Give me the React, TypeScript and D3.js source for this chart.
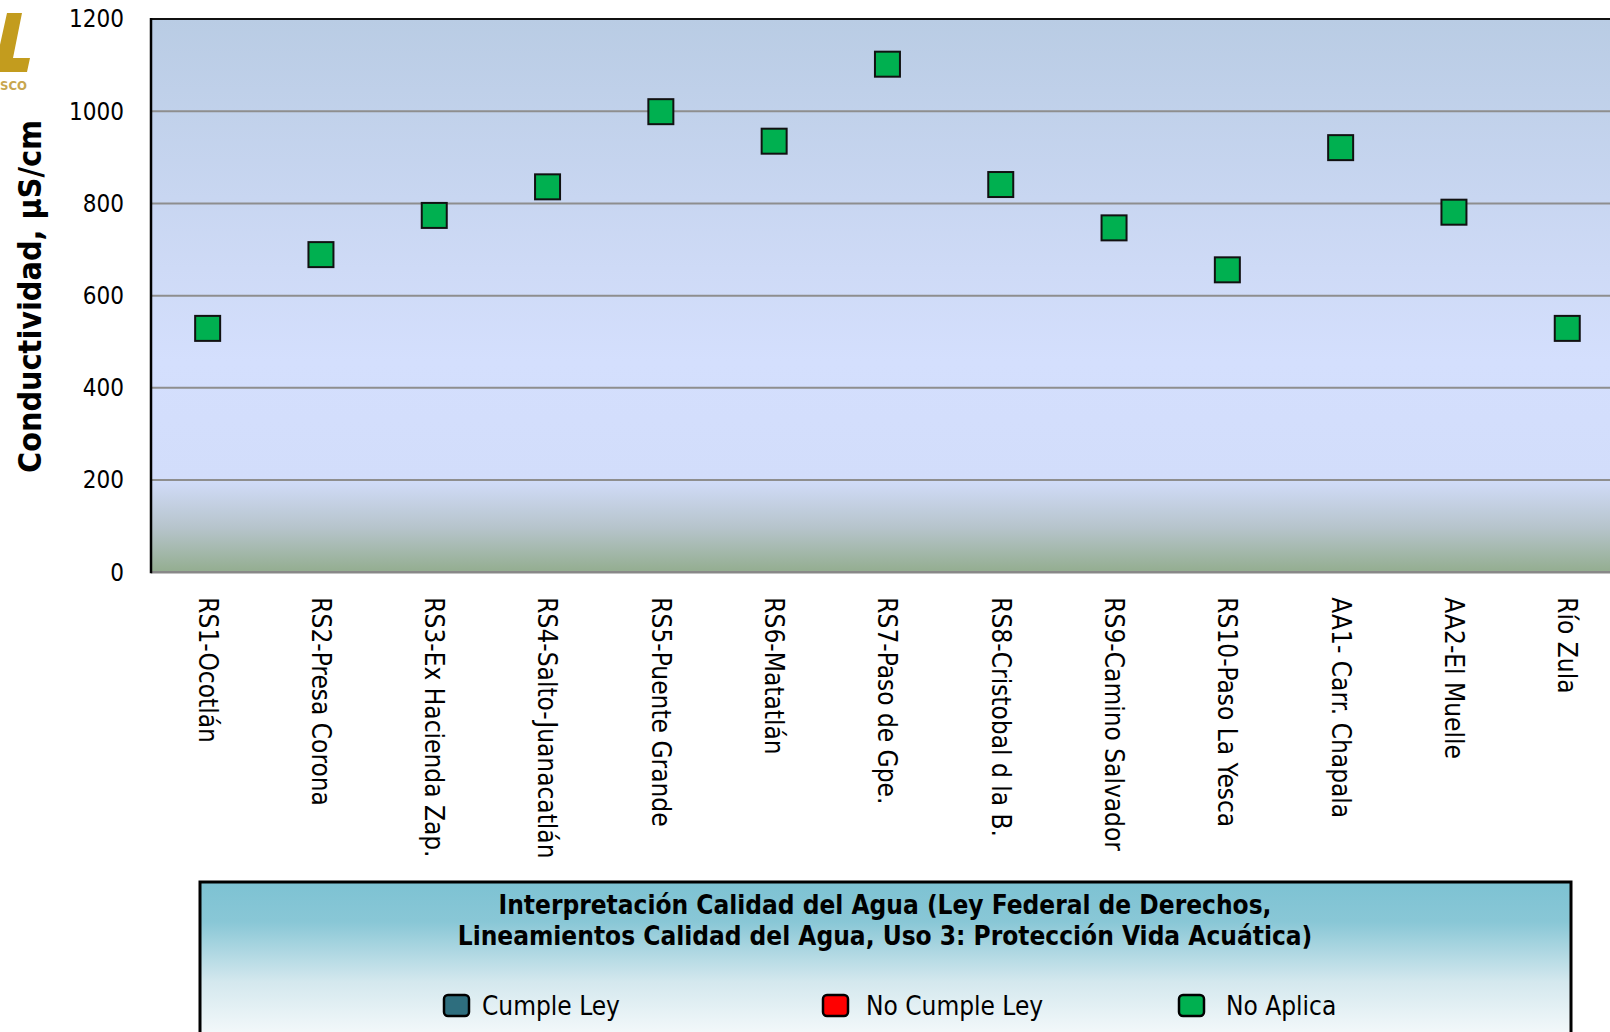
import { useEffect, useRef } from 'react'
import * as d3 from 'd3'

const categories = [
  'RS1-Ocotlán',
  'RS2-Presa Corona',
  'RS3-Ex Hacienda Zap.',
  'RS4-Salto-Juanacatlán',
  'RS5-Puente Grande',
  'RS6-Matatlán',
  'RS7-Paso de Gpe.',
  'RS8-Cristobal d la B.',
  'RS9-Camino Salvador',
  'RS10-Paso La Yesca',
  'AA1- Carr. Chapala',
  'AA2-El Muelle',
  'Río Zula',
]
const conductividad = [529, 689, 774, 836, 999, 935, 1102, 841, 747, 656, 921, 781, 529]
const yTicks = [0, 200, 400, 600, 800, 1000, 1200]
const legendItems = [
  { label: 'Cumple Ley', color: '#2E6E7E' },
  { label: 'No Cumple Ley', color: '#FF0000' },
  { label: 'No Aplica', color: '#00B050' },
]
const legendTitle = [
  'Interpretación Calidad del Agua (Ley Federal de Derechos,',
  'Lineamientos Calidad del Agua, Uso 3: Protección Vida Acuática)',
]

const FONT = '"DejaVu Sans Condensed", "DejaVu Sans", sans-serif'

export default function App() {
  const ref = useRef<SVGSVGElement>(null)

  useEffect(() => {
    const svg = d3.select(ref.current)
    svg.selectAll('*').remove()

    const width = 1610
    const height = 1032
    const left = 151
    const top = 19
    const bottom = 572.3
    const band = 113.3

    svg.attr('width', width).attr('height', height).attr('viewBox', `0 0 ${width} ${height}`)

    const defs = svg.append('defs')
    const bg = defs.append('linearGradient').attr('id', 'plotBg').attr('x1', 0).attr('y1', 0).attr('x2', 0).attr('y2', 1)
    bg.append('stop').attr('offset', '0').attr('stop-color', '#B9CCE4')
    bg.append('stop').attr('offset', '0.45').attr('stop-color', '#CEDAF6')
    bg.append('stop').attr('offset', '0.62').attr('stop-color', '#D4DFFD')
    bg.append('stop').attr('offset', '0.83').attr('stop-color', '#D2DDFB')
    bg.append('stop').attr('offset', '0.92').attr('stop-color', '#B6C4CB')
    bg.append('stop').attr('offset', '1').attr('stop-color', '#93AD8F')

    const lg = defs.append('linearGradient').attr('id', 'legBg').attr('x1', 0).attr('y1', 0).attr('x2', 0).attr('y2', 1)
    lg.append('stop').attr('offset', '0').attr('stop-color', '#7DC2D3')
    lg.append('stop').attr('offset', '0.2').attr('stop-color', '#89C7D6')
    lg.append('stop').attr('offset', '0.5').attr('stop-color', '#D4E8EE')
    lg.append('stop').attr('offset', '0.8').attr('stop-color', '#F8FBFC')
    lg.append('stop').attr('offset', '1').attr('stop-color', '#FFFFFF')

    const x = d3.scaleBand().domain(categories).range([left, left + band * categories.length]).padding(0)
    const y = d3.scaleLinear().domain([0, 1200]).range([bottom, top])

    // logo fragment, cut off at the page edge like the source
    svg.append('path')
      .attr('d', 'M-6,72 L27,72 L30,58 L13,58 L22,13 L7,13 Z')
      .attr('fill', '#C39C1E')
    svg.append('text')
      .attr('x', 0).attr('y', 90)
      .attr('font-family', FONT).attr('font-weight', 'bold')
      .attr('font-size', 13).attr('fill', '#C8A64E')
      .text('SCO')

    // plot background
    svg.append('rect')
      .attr('x', left).attr('y', top)
      .attr('width', width - left + 20).attr('height', bottom - top)
      .attr('fill', 'url(#plotBg)')

    // gridlines
    svg.append('g')
      .selectAll('line')
      .data(yTicks.filter(t => t > 0 && t < 1200))
      .join('line')
      .attr('x1', left).attr('x2', width)
      .attr('y1', d => y(d)).attr('y2', d => y(d))
      .attr('stroke', '#8E8E8E').attr('stroke-width', 2)

    // top border
    svg.append('line')
      .attr('x1', left).attr('x2', width)
      .attr('y1', top).attr('y2', top)
      .attr('stroke', '#111').attr('stroke-width', 2)

    // bottom axis
    svg.append('line')
      .attr('x1', left).attr('x2', width)
      .attr('y1', bottom).attr('y2', bottom)
      .attr('stroke', '#888').attr('stroke-width', 2.5)

    // left axis
    svg.append('line')
      .attr('x1', left).attr('x2', left)
      .attr('y1', top - 1).attr('y2', bottom + 1)
      .attr('stroke', '#000').attr('stroke-width', 2.5)

    // y tick labels
    svg.append('g')
      .selectAll('text')
      .data(yTicks)
      .join('text')
      .attr('x', 124)
      .attr('y', d => y(d))
      .attr('dy', '0.35em')
      .attr('text-anchor', 'end')
      .attr('font-family', FONT).attr('font-size', 24).attr('fill', '#000')
      .text(d => String(d))

    // y title
    svg.append('text')
      .attr('transform', `translate(41,${(121 + 472) / 2}) rotate(-90)`)
      .attr('text-anchor', 'middle')
      .attr('font-family', FONT).attr('font-weight', 'bold')
      .attr('font-size', 32).attr('fill', '#000')
      .text('Conductividad, µS/cm')

    // x labels
    svg.append('g')
      .selectAll('text')
      .data(categories)
      .join('text')
      .attr('transform', d => `translate(${x(d)! + band / 2},${bottom + 25}) rotate(90)`)
      .attr('dy', '0.35em')
      .attr('text-anchor', 'start')
      .attr('font-family', FONT).attr('font-size', 26).attr('fill', '#000')
      .text(d => d)

    // markers
    const ms = 25
    svg.append('g')
      .selectAll('rect')
      .data(conductividad)
      .join('rect')
      .attr('x', (_, i) => x(categories[i])! + band / 2 - ms / 2)
      .attr('y', d => y(d) - ms / 2)
      .attr('width', ms).attr('height', ms)
      .attr('fill', '#00B050').attr('stroke', '#111').attr('stroke-width', 2)

    // legend box
    const lx = 200
    const ly = 882
    const lw = 1371
    svg.append('rect')
      .attr('x', lx).attr('y', ly)
      .attr('width', lw).attr('height', 200)
      .attr('fill', 'url(#legBg)')
      .attr('stroke', '#000').attr('stroke-width', 3)

    svg.append('g')
      .selectAll('text')
      .data(legendTitle)
      .join('text')
      .attr('x', 885)
      .attr('y', (_, i) => 914 + i * 31)
      .attr('text-anchor', 'middle')
      .attr('font-family', FONT).attr('font-weight', 'bold')
      .attr('font-size', 26).attr('fill', '#000')
      .text(d => d)

    const itemX = [444, 823, 1179]
    const textX = [38, 43, 47]
    const items = svg.append('g')
      .selectAll('g')
      .data(legendItems)
      .join('g')
      .attr('transform', (_, i) => `translate(${itemX[i]},1006)`)
    items.append('rect')
      .attr('x', 0).attr('y', -11)
      .attr('width', 25).attr('height', 21)
      .attr('rx', 4)
      .attr('fill', d => d.color)
      .attr('stroke', '#000').attr('stroke-width', 2.5)
    items.append('text')
      .attr('x', (_, i) => textX[i]).attr('y', 0)
      .attr('dy', '0.35em')
      .attr('font-family', FONT).attr('font-size', 26).attr('fill', '#000')
      .text(d => d.label)
  }, [])

  return (
    <div style={{ position: 'fixed', left: 0, top: 0, width: 1610, height: 1032, overflow: 'hidden', background: '#fff' }}>
      <svg ref={ref} style={{ display: 'block' }} />
    </div>
  )
}
